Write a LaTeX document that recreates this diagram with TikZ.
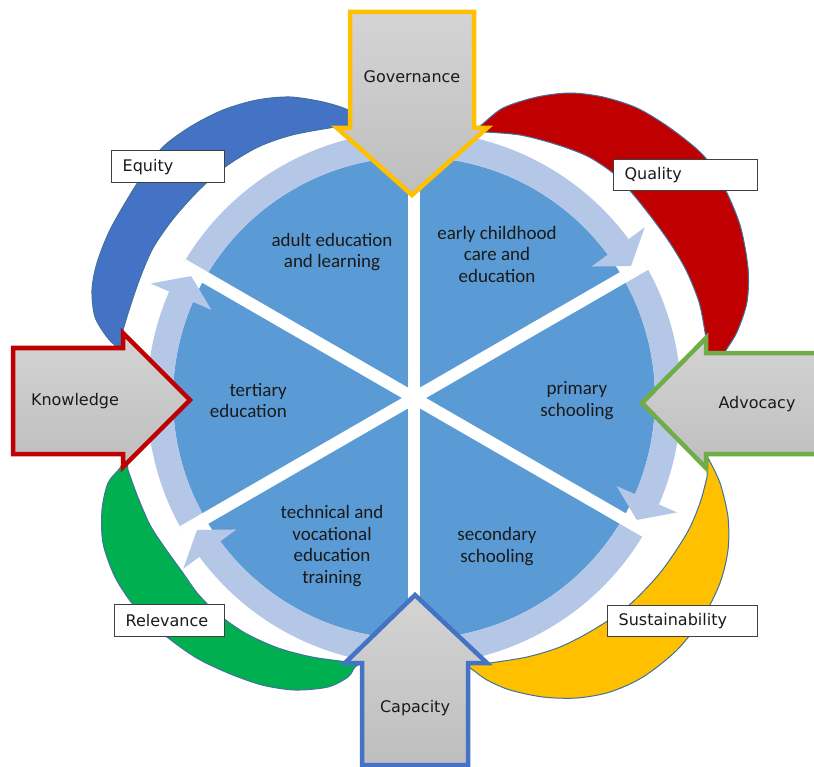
\documentclass[tikz,border=0pt]{standalone}
\usepackage{fontspec}
\newfontfamily\verd{DejaVu Sans}
\newfontfamily\calfont{Carlito}
\definecolor{discc}{HTML}{5B9BD5}
\definecolor{ringc}{HTML}{B4C7E7}
\definecolor{petaledge}{HTML}{41719C}
\definecolor{pblue}{HTML}{4472C4}
\definecolor{pred}{HTML}{C00000}
\definecolor{pyellow}{HTML}{FFC000}
\definecolor{pgreen}{HTML}{00B050}
\definecolor{govc}{HTML}{FFC000}
\definecolor{capc}{HTML}{4472C4}
\definecolor{knoc}{HTML}{C00000}
\definecolor{advc}{HTML}{70AD47}
\definecolor{gtop}{HTML}{D4D4D4}
\definecolor{gbot}{HTML}{BEBEBE}
\definecolor{boxedge}{HTML}{404040}
\definecolor{txt}{HTML}{1A1A1A}
\newcommand\ringarrow[3]{%
  \fill[ringc] (#1:241) arc[start angle=#1, end angle=#2, radius=241] -- (#2:221) -- (#3:254) -- (#2:287) -- (#2:267) arc[start angle=#2, end angle=#1, radius=267] -- cycle;}
\tikzset{
  petal/.style={draw=petaledge, line width=1},
  bigarrow/.style={top color=gtop, bottom color=gbot, line width=4.5, line join=miter},
  lbl/.style={draw=boxedge, line width=1.3, fill=white, anchor=north west, inner xsep=11, inner ysep=0, align=left, font=\verd\fontsize{16}{19}\selectfont, text=txt},
  arrtext/.style={font=\verd\fontsize{16}{19}\selectfont, text=txt, inner sep=0},
  inl/.style={font=\calfont\fontsize{19}{21.5}\selectfont, text=txt, align=center, inner sep=0},
}
\begin{document}
\begin{tikzpicture}[x=1pt,y=-1pt]
\clip (0,0) rectangle (814,767);
\fill[white] (0,0) rectangle (814,767);

% petals
\filldraw[petal, fill=pblue] plot[smooth] coordinates {(362,122) (348,110) (323,102) (290,97) (257,100) (223,110) (190,127) (160,150) (133,190) (110,230) (97,263) (92,290) (95,317) (107,337) (117,347) (125,352)}
  -- plot[smooth] coordinates {(123,330) (130,307) (140,278) (153,248) (173,219) (198,191) (225,167) (258,147) (292,135) (335,127) (350,125)} -- cycle;
\filldraw[petal, fill=pred] plot[smooth] coordinates {(468,132) (480,126) (503,108) (537,97) (570,93) (603,97) (637,108) (670,128) (703,155) (723,185) (740,225) (748,268) (747,302) (737,332) (725,352) (720,365)}
  -- plot[smooth] coordinates {(707,360) (707,348) (705,332) (699,302) (686,270) (670,243) (652,218) (632,193) (613,173) (587,156) (555,144) (520,135) (485,132)} -- cycle;
\filldraw[petal, fill=pyellow] plot[smooth] coordinates {(708,458) (720,483) (728,517) (728,550) (720,583) (703,617) (677,650) (643,677) (610,692) (577,698) (543,697) (510,690) (487,680) (473,670) (464,664)}
  -- plot[smooth] coordinates {(490,663) (527,657) (560,647) (593,630) (627,607) (660,573) (687,533) (700,503) (707,477)} -- cycle;
\filldraw[petal, fill=pgreen] plot[smooth] coordinates {(126,455) (120,468) (108,483) (102,510) (103,543) (115,577) (135,607) (162,633) (195,657) (228,673) (262,685) (295,690) (328,687) (348,677) (355,667) (362,663)}
  -- plot[smooth] coordinates {(348,662) (312,657) (278,648) (245,633) (218,614) (198,594) (183,573) (165,548) (150,525) (137,495) (128,470)} -- cycle;

% disc, ring arrows, spokes
\begin{scope}[shift={(414,398)}]
  \fill[discc] (0,0) circle[radius=241];
  \ringarrow{-150}{-36.5}{-31.3}
  \ringarrow{-30}{23.5}{28.7}
  \ringarrow{30}{143.5}{148.7}
  \ringarrow{150}{203.5}{208.7}
  \foreach \a in {30,90,150,210,270,330}
    \draw[white, line width=12] (0,0) -- (\a:267);
\end{scope}

% inner labels
\node[inl] (adult) at (332,252) {adult education\\and learning};
\node[inl] (early) at (497,254) {early childhood\\care and\\education};
\node[inl, align=right, anchor=east] (tert) at (287,400.5) {tertiary\\education};
\node[inl] (prim) at (577,400.5) {primary\\schooling};
\node[inl] (sec) at (497,546.5) {secondary\\schooling};
\node[inl] (tech) at (332,546) {technical and\\vocational\\education\\training};

% big arrows
\draw[bigarrow, draw=govc] (350,12) -- (474,12) -- (474,128) -- (487,128) -- (412,195) -- (337,128) -- (350,128) -- cycle;
\node[arrtext] (gov) at (412,77) {Governance};
\draw[bigarrow, draw=capc] (415,595) -- (487,663) -- (468,663) -- (468,765) -- (362,765) -- (362,663) -- (345,663) -- cycle;
\node[arrtext] (cap) at (415,708) {Capacity};
\draw[bigarrow, draw=knoc] (13,348) -- (123,348) -- (123,333) -- (190,400) -- (123,467) -- (123,454) -- (13,454) -- cycle;
\node[arrtext] (kno) at (75,401) {Knowledge};
\draw[bigarrow, draw=advc] (642,403) -- (706,338) -- (706,353) -- (840,353) -- (840,454) -- (706,454) -- (706,468) -- cycle;
\node[arrtext] (adv) at (757,404) {Advocacy};

% label boxes
\node[lbl, text width=91, minimum height=32] (equity) at (111,150) {Equity};
\node[lbl, text width=122, minimum height=31] (quality) at (613,159) {Quality};
\node[lbl, text width=88, minimum height=32] (relevance) at (114,604) {Relevance};
\node[lbl, text width=128, minimum height=31] (sustain) at (607,605) {Sustainability};
\end{tikzpicture}
\end{document}
